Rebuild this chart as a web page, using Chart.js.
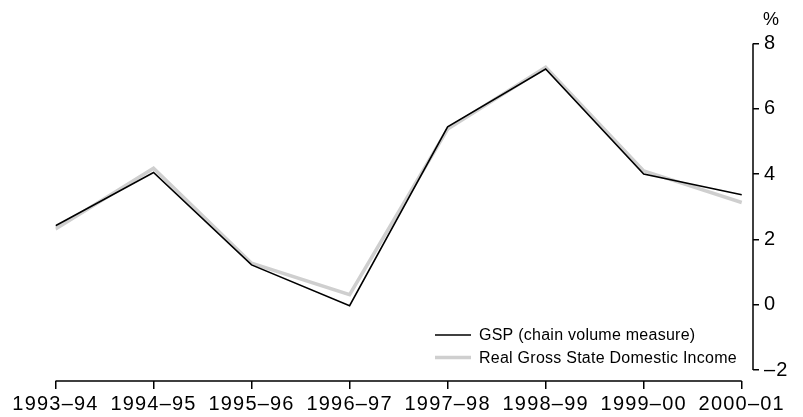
<!DOCTYPE html>
<html>
<head>
<meta charset="utf-8">
<script src="https://cdn.jsdelivr.net/npm/chart.js@4/dist/chart.umd.min.js"></script>
<style>
  body { margin: 0; background: #fff; }
  #wrap { width: 803px; height: 417px; position: relative; }
</style>
</head>
<body>
<div id="wrap"><canvas id="gspChart"></canvas></div>
<script>
// data
const years = ['1993–94', '1994–95', '1995–96', '1996–97', '1997–98', '1998–99', '1999–00', '2000–01'];
const gsp = [2.42, 4.05, 1.22, -0.03, 5.45, 7.22, 4.0, 3.37];
const income = [2.32, 4.18, 1.27, 0.31, 5.38, 7.27, 4.1, 3.13];
const yTicks = [-2, 0, 2, 4, 6, 8];

const FONT = '"Liberation Sans", Arial, sans-serif';

const toPoints = arr => arr.map((v, i) => ({ x: i, y: v }));

// axis lines stop at the first/last tick, plus "%" and legend inside the plot
const extras = {
    id: 'extras',
    beforeDraw(chart) {
        // the original tick font is a bit wider than Liberation Sans
        chart.ctx.letterSpacing = '1.2px';
    },
    afterDraw(chart) {
        const { ctx, chartArea, scales: { x, y } } = chart;
        ctx.save();
        ctx.letterSpacing = '0px';
        ctx.strokeStyle = '#000';
        ctx.lineWidth = 1.5;
        ctx.beginPath();
        ctx.moveTo(x.getPixelForValue(0), chartArea.bottom);
        ctx.lineTo(x.getPixelForValue(years.length - 1), chartArea.bottom);
        ctx.moveTo(chartArea.right, y.getPixelForValue(yTicks[0]));
        ctx.lineTo(chartArea.right, y.getPixelForValue(yTicks[yTicks.length - 1]));
        ctx.stroke();

        ctx.fillStyle = '#000';
        ctx.font = '18px ' + FONT;
        ctx.textBaseline = 'bottom';
        ctx.textAlign = 'left';
        ctx.fillText('%', chartArea.right + 10, 29);

        // legend
        ctx.font = '16px ' + FONT;
        ctx.letterSpacing = '0.25px';
        ctx.textBaseline = 'middle';
        const rows = [335, 357.5];
        chart.data.datasets.forEach((ds, i) => {
            ctx.strokeStyle = ds.borderColor;
            ctx.lineWidth = ds.borderWidth;
            ctx.beginPath();
            ctx.moveTo(435, rows[i]);
            ctx.lineTo(471, rows[i]);
            ctx.stroke();
            ctx.fillStyle = '#000';
            ctx.fillText(ds.label, 479, rows[i] + 1);
        });
        ctx.restore();
    }
};

new Chart(document.getElementById('gspChart').getContext('2d'), {
    type: 'line',
    data: {
        datasets: [
            {
                label: 'GSP (chain volume measure)',
                data: toPoints(gsp),
                borderColor: '#000000',
                borderWidth: 1.6,
                pointRadius: 0,
                tension: 0,
                borderJoinStyle: 'miter'
            },
            {
                label: 'Real Gross State Domestic Income',
                data: toPoints(income),
                borderColor: '#cfcfcf',
                borderWidth: 3.5,
                pointRadius: 0,
                tension: 0,
                borderJoinStyle: 'miter'
            }
        ]
    },
    options: {
        responsive: true,
        maintainAspectRatio: false,
        animation: false,
        layout: { padding: { left: 55.5, top: 43.5, right: 0, bottom: 0 } },
        plugins: {
            legend: { display: false },
            tooltip: { enabled: false }
        },
        scales: {
            x: {
                type: 'linear',
                min: 0,
                max: 7.115,
                border: { display: false },
                grid: { drawOnChartArea: false, tickLength: 8, color: '#000', lineWidth: 1.5 },
                afterBuildTicks: scale => {
                    scale.ticks = years.map((_, i) => ({ value: i }));
                },
                afterFit: scale => { scale.height = 36; },
                ticks: {
                    autoSkip: false,
                    maxRotation: 0,
                    minRotation: 0,
                    padding: 3,
                    color: '#000',
                    font: { family: FONT, size: 20 },
                    callback: value => years[value]
                }
            },
            y: {
                position: 'right',
                min: -2.337,
                max: 8,
                border: { display: false },
                grid: { drawOnChartArea: false, tickLength: 6, color: '#000', lineWidth: 1.5 },
                afterBuildTicks: scale => {
                    scale.ticks = yTicks.map(v => ({ value: v }));
                },
                afterFit: scale => { scale.width = 50; },
                ticks: {
                    padding: 5,
                    color: '#000',
                    font: { family: FONT, size: 20 },
                    callback: value => value < 0 ? '–' + Math.abs(value) : String(value)
                }
            }
        }
    },
    plugins: [extras]
});
</script>
</body>
</html>
